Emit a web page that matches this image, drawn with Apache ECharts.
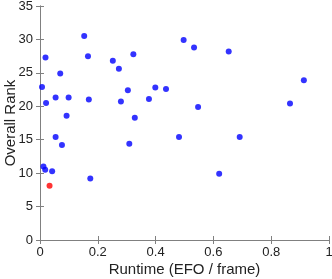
<!DOCTYPE html>
<html><head><meta charset="utf-8">
<script src="https://cdn.jsdelivr.net/npm/echarts@6/dist/echarts.min.js"></script>
<style>html,body{margin:0;padding:0;background:#fff}#c{width:332px;height:279px}</style>
</head><body><div id="c"></div>
<script>
var runtime = [0.007,0.019,0.021,0.070,0.054,0.099,0.092,0.054,0.153,0.166,0.169,0.252,0.273,0.280,0.304,0.323,0.328,0.377,0.399,0.436,0.497,0.533,0.653,0.547,0.865,0.913,0.481,0.691,0.620,0.076,0.309,0.012,0.018,0.042,0.174];
var rank    = [22.9,27.3,20.5,24.9,21.3,21.3,18.6,15.4,30.5,27.5,21.0,26.8,25.6,20.7,22.4,27.8,18.3,21.1,22.8,22.6,29.9,28.8,28.2,19.9,20.4,23.9,15.4,15.4,9.9,14.2,14.4,11.0,10.5,10.3,9.2];
var highlightRuntime = [0.033];
var highlightRank = [8.1];
var xTicks = [0,0.2,0.4,0.6,0.8,1];
var yTicks = [0,5,10,15,20,25,30,35];

function pairs(a,b){return a.map(function(v,i){return [v,b[i]];});}
var font = 'Liberation Sans, Arial, sans-serif';
var axisLine = {show:true, lineStyle:{color:'#808080', width:1}};
var tick = {show:true, inside:true, length:4, lineStyle:{color:'#808080'}};
var chart = echarts.init(document.getElementById('c'));
chart.setOption({
  animation:false,
  grid:{left:40, right:3, top:6, bottom:39, containLabel:false, outerBoundsMode:'none'},
  xAxis:[{
    type:'value', min:0, max:1, interval:0.2, position:'bottom',
    axisLine:axisLine, axisTick:tick, splitLine:{show:false},
    axisLabel:{color:'#222', fontSize:13, fontFamily:font, margin:6,
      formatter:function(v){return xTicks.indexOf(v)>=0 ? String(v):'';}},
    name:'Runtime (EFO / frame)', nameLocation:'middle', nameGap:22, nameMoveOverlap:false,
    nameTextStyle:{color:'#222', fontSize:15, fontFamily:font}
  },{
    type:'value', min:0, max:1, interval:0.2, position:'top',
    axisLine:axisLine, axisTick:tick, axisLabel:{show:false}, splitLine:{show:false}
  }],
  yAxis:[{
    type:'value', min:0, max:35, interval:5, position:'left',
    axisLine:axisLine, axisTick:tick, splitLine:{show:false},
    axisLabel:{color:'#222', fontSize:13, fontFamily:font, margin:7,
      formatter:function(v){return yTicks.indexOf(v)>=0 ? String(v):'';}},
    name:'Overall Rank', nameLocation:'middle', nameGap:22, nameMoveOverlap:false,
    nameTextStyle:{color:'#222', fontSize:15, fontFamily:font}
  },{
    type:'value', min:0, max:35, interval:5, position:'right',
    axisLine:axisLine, axisTick:tick, axisLabel:{show:false}, splitLine:{show:false}
  }],
  series:[{
    type:'scatter', symbolSize:6, itemStyle:{color:'#0000ff'},
    data:pairs(runtime, rank)
  },{
    type:'scatter', symbolSize:6, itemStyle:{color:'#ff0000'},
    data:pairs(highlightRuntime, highlightRank)
  }]
});
</script></body></html>
